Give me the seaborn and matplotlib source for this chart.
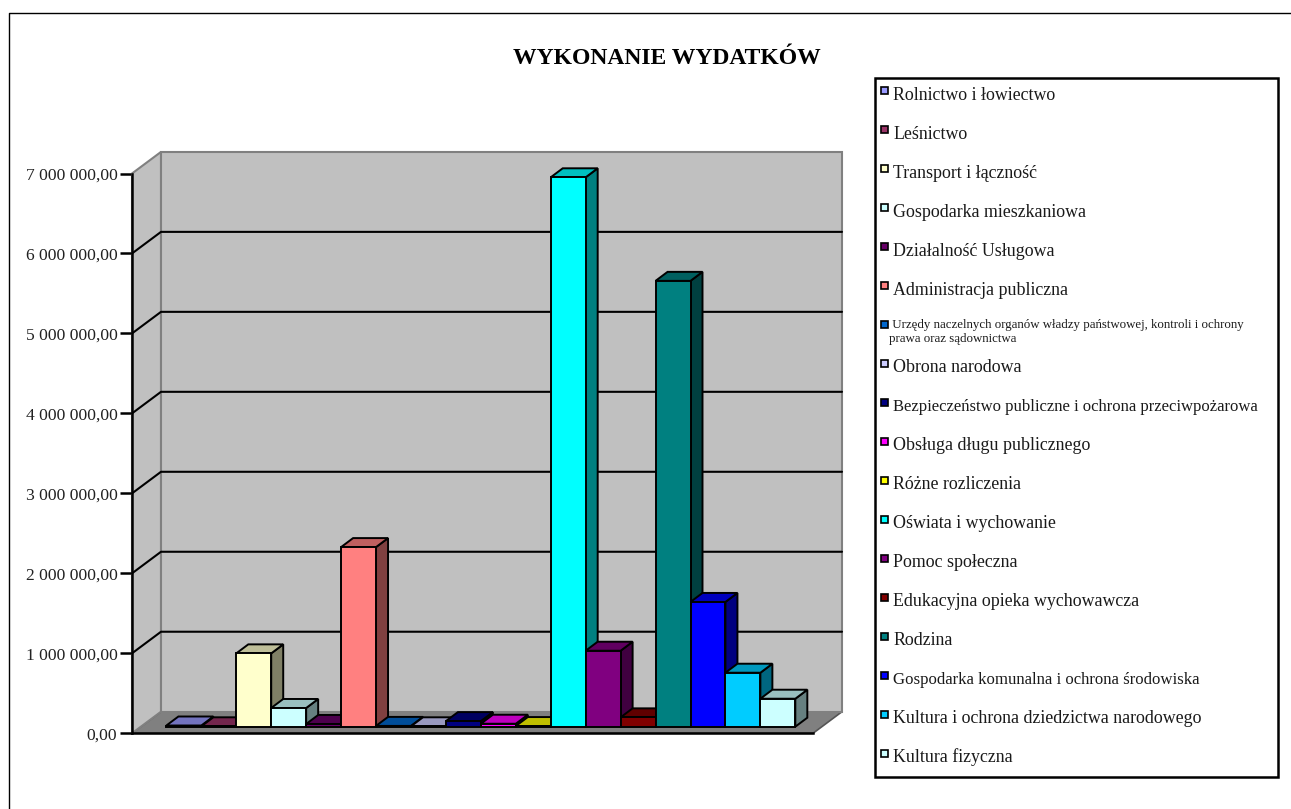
import matplotlib
matplotlib.use("Agg")
import matplotlib.pyplot as plt
from matplotlib.colors import to_rgb
from matplotlib.lines import Line2D
from matplotlib.patches import Patch, Polygon, Rectangle
from matplotlib.ticker import FuncFormatter
import pandas as pd
import seaborn as sns

categories = [
    "Rolnictwo i łowiectwo", "Leśnictwo", "Transport i łączność",
    "Gospodarka mieszkaniowa", "Działalność Usługowa", "Administracja publiczna",
    "Urzędy naczelnych organów władzy państwowej, kontroli i ochrony\nprawa oraz sądownictwa",
    "Obrona narodowa", "Bezpieczeństwo publiczne i ochrona przeciwpożarowa",
    "Obsługa długu publicznego", "Różne rozliczenia", "Oświata i wychowanie",
    "Pomoc społeczna", "Edukacyjna opieka wychowawcza", "Rodzina",
    "Gospodarka komunalna i ochrona środowiska",
    "Kultura i ochrona dziedzictwa narodowego", "Kultura fizyczna",
]
values = [15000, 5000, 917000, 234000, 34000, 2246000, 10000, 5000, 70000,
          37000, 8000, 6870000, 950000, 117000, 5575000, 1560000, 675000, 350000]
colors = ["#9999FF", "#993366", "#FFFFCC", "#CCFFFF", "#660066", "#FF8080",
          "#0066CC", "#CCCCFF", "#000080", "#FF00FF", "#FFFF00", "#00FFFF",
          "#800080", "#800000", "#008080", "#0000FF", "#00CCFF", "#CCFFFF"]
y_ticks = [0, 1000000, 2000000, 3000000, 4000000, 5000000, 6000000, 7000000]
title = "WYKONANIE WYDATKÓW"

W, H = 1291, 809
sns.set_theme(style="white")
plt.rcParams["font.family"] = ["Liberation Serif", "DejaVu Serif"]
plt.rcParams["text.color"] = "#1a1a1a"

fig = plt.figure(figsize=(W / 100, H / 100), dpi=100, facecolor="white")
AX_L, AX_R, AX_B, AX_T = 132, 813, 733.3, 173.5
ax = fig.add_axes([AX_L / W, 1 - AX_B / H, (AX_R - AX_L) / W, (AX_B - AX_T) / H])
ax.set_facecolor("none")

BAR_PX = 34.94
FIRST_BAR_PX = 166.4
x0 = (AX_L - FIRST_BAR_PX) / BAR_PX - 0.5
x1 = (AX_R - FIRST_BAR_PX) / BAR_PX - 0.5
ymax = y_ticks[-1]
PX_Y = ymax / (AX_B - AX_T)
ax.set_xlim(x0, x1)
ax.set_ylim(0, ymax)

df = pd.DataFrame({"kategoria": categories, "wartosc": values})
inset = 6.6 * PX_Y
sns.barplot(data=df, x="kategoria", y="wartosc", hue="kategoria", hue_order=categories,
            order=categories, palette=colors, width=1, dodge=False, legend=False,
            edgecolor="black", linewidth=1.4, saturation=1, bottom=inset, ax=ax, zorder=5)
ax.set_xlim(x0, x1)
ax.set_ylim(0, ymax)
ax.set_xlabel("")
ax.set_ylabel("")
ax.set_xticks([])

# walls and floor of the 3-D box
wdx, wdy = 29 / BAR_PX, 21.6 * PX_Y
wall_kw = dict(closed=True, clip_on=False, zorder=1)
ax.add_patch(Polygon([(x0, 0), (x1, 0), (x1 + wdx, wdy), (x0 + wdx, wdy)],
                     facecolor="#808080", edgecolor="#555555", linewidth=1.2, **wall_kw))
ax.add_patch(Polygon([(x0, 0), (x0 + wdx, wdy), (x0 + wdx, ymax + wdy), (x0, ymax)],
                     facecolor="#C0C0C0", edgecolor="#808080", linewidth=1.5, **wall_kw))
ax.add_patch(Polygon([(x0 + wdx, wdy), (x1 + wdx, wdy), (x1 + wdx, ymax + wdy), (x0 + wdx, ymax + wdy)],
                     facecolor="#C0C0C0", edgecolor="#808080", linewidth=1.5, **wall_kw))
for v in y_ticks[1:-1]:
    ax.plot([x0, x0 + wdx, x1 + wdx], [v, v + wdy, v + wdy], color="black",
            linewidth=1.5, clip_on=False, zorder=2)

# 3-D faces of every bar, painted left to right
bdx, bdy = 12 / BAR_PX, 9 * PX_Y
for i, (bar, col) in enumerate(zip(ax.patches[:len(values)], colors)):
    l, b, w, h = bar.get_x(), bar.get_y(), bar.get_width(), bar.get_height()
    r, t = l + w, b + h
    rgb = to_rgb(col)
    base = 5 + i * 0.1
    bar.set_zorder(base + 0.02)
    bar.set_clip_on(False)
    ax.add_patch(Polygon([(r, b), (r + bdx, b + bdy), (r + bdx, t + bdy), (r, t)], closed=True,
                         facecolor=[c * 0.5 for c in rgb], edgecolor="black", linewidth=1.4,
                         clip_on=False, zorder=base))
    ax.add_patch(Polygon([(l, t), (r, t), (r + bdx, t + bdy), (l + bdx, t + bdy)], closed=True,
                         facecolor=[c * 0.75 for c in rgb], edgecolor="black", linewidth=1.4,
                         clip_on=False, zorder=base + 0.01))

# axis
sns.despine(ax=ax, top=True, right=True, left=False, bottom=False)
for side in ("left", "bottom"):
    ax.spines[side].set_color("black")
    ax.spines[side].set_linewidth(1.8)
    ax.spines[side].set_zorder(3)
ax.set_yticks(y_ticks)
ax.yaxis.set_major_formatter(FuncFormatter(lambda v, _: f"{v:,.2f}".replace(",", " ").replace(".", ",")))
ax.tick_params(axis="y", direction="out", length=9, width=1.8, color="black", left=True,
               labelsize=12.6, labelcolor="#222222", pad=1.5)

fig.suptitle(title, x=667 / W, y=1 - 58 / H, va="center", ha="center",
             fontsize=17, fontweight="bold", color="black")

# legend: tall handle boxes give every row the same height, the frame is a separate box
LG_L, LG_R, LG_T, LG_B = 875, 1278, 78, 777
fig.add_artist(Rectangle((LG_L / W, 1 - LG_B / H), (LG_R - LG_L) / W, (LG_B - LG_T) / H,
                         transform=fig.transFigure, facecolor="white", edgecolor="black",
                         linewidth=1.8))
handles = [Patch(facecolor=c, edgecolor="black", linewidth=1.2) for c in colors]
leg = fig.legend(handles, categories, loc="upper left",
                 bbox_to_anchor=(881 / W, 1 - 78 / H), ncol=1, fontsize=12.9, frameon=False,
                 labelspacing=0.37, borderpad=0, borderaxespad=0, handlelength=0.55,
                 handleheight=2.4, handletextpad=0.12)
for txt, h in zip(leg.get_texts(), leg.legend_handles):
    h.set_x(0)
    h.set_y(3.9)
    h.set_width(5.2)
    h.set_height(5.2)
    label = txt.get_text()
    if "\n" in label:
        txt.set_text(" " + label)
        txt.set_fontsize(9.25)
        txt.set_linespacing(1.3)
        txt.set_x(-4)
        txt.set_y(-3)
    elif label.startswith("Bezpiecze"):
        txt.set_fontsize(12)
    elif label.startswith("Gospodarka komunalna"):
        txt.set_fontsize(12.1)

# outer chart frame, running off the right and bottom of the page
fig.add_artist(Line2D([9 / W, 9 / W, 1], [0, 1 - 13 / H, 1 - 13 / H], color="black",
                      linewidth=1.0, transform=fig.transFigure))

fig.savefig("out.png", dpi=100, facecolor="white")
